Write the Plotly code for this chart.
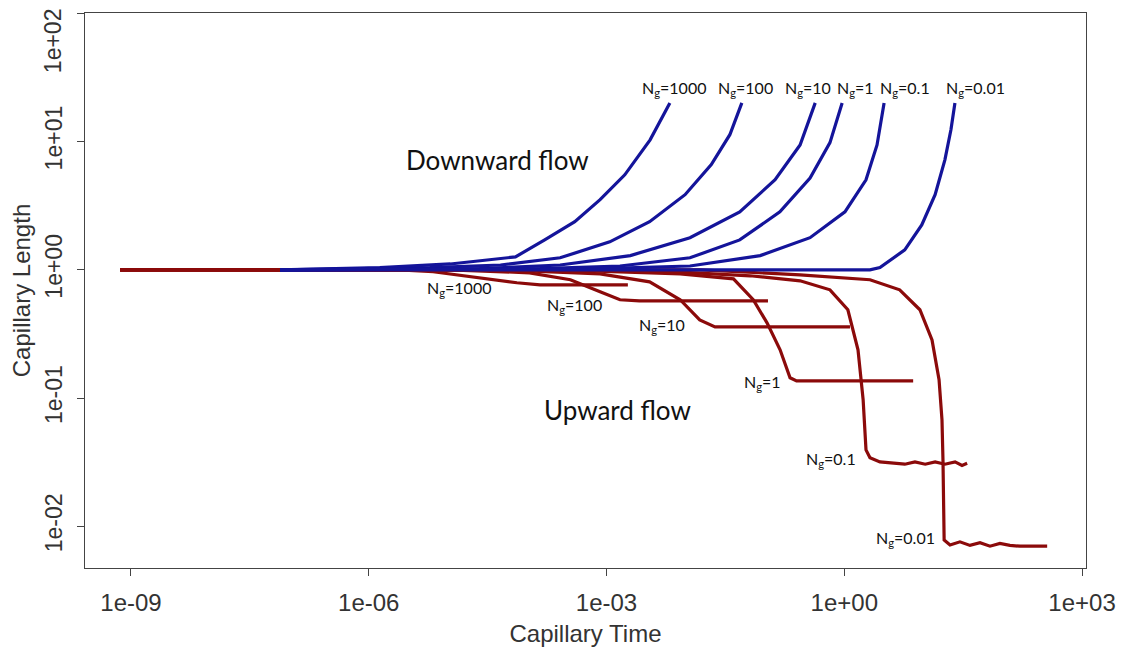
import plotly.graph_objects as go

# ---------------- data ----------------
ng_labels = ["1000", "100", "10", "1", "0.1", "0.01"]

# Downward flow (blue)
down_x_1000 = [7.6e-8, 1.38e-6, 1.07e-5, 7.1e-5, 1.66e-4, 3.98e-4, 8.3e-4, 1.7e-3, 3.55e-3, 6.3e-3]
down_y_1000 = [1.0, 1.04, 1.11, 1.26, 1.71, 2.37, 3.52, 5.5, 10.3, 20.0]
down_x_100 = [7.6e-8, 5.9e-6, 4.6e-5, 2.6e-4, 1.1e-3, 3.5e-3, 9.8e-3, 0.021, 0.036, 0.051]
down_y_100 = [1.0, 1.04, 1.09, 1.24, 1.65, 2.37, 3.85, 6.6, 11.3, 20.0]
down_x_10 = [7.6e-8, 2.5e-5, 2.6e-4, 2.0e-3, 0.0113, 0.048, 0.134, 0.277, 0.43]
down_y_10 = [1.0, 1.02, 1.09, 1.29, 1.78, 2.83, 5.03, 9.4, 20.0]
down_x_1 = [7.6e-8, 1.45e-4, 1.48e-3, 0.0113, 0.048, 0.154, 0.37, 0.66, 0.94]
down_y_1 = [1.0, 1.02, 1.07, 1.24, 1.71, 2.83, 5.2, 9.8, 20.0]
down_x_01 = [7.6e-8, 8.3e-4, 0.0113, 0.087, 0.37, 1.02, 1.88, 2.59, 3.18]
down_y_01 = [1.0, 1.02, 1.07, 1.29, 1.78, 2.83, 5.03, 9.4, 20.0]
down_x_001 = [7.6e-8, 2.11, 2.82, 5.8, 9.5, 14.0, 18.6, 22.2, 24.9]
down_y_001 = [1.0, 1.0, 1.04, 1.43, 2.24, 3.85, 7.2, 12.4, 20.0]

# Upward flow (red)
up_x_1000 = [7.3e-10, 2.45e-6, 6.5e-6, 2.5e-5, 7.4e-5, 1.45e-4, 1.86e-3]
up_y_1000 = [1.0, 1.0, 0.965, 0.866, 0.792, 0.764, 0.764]
up_x_100 = [7.3e-10, 1.07e-5, 1.07e-4, 3.5e-4, 8.3e-4, 1.48e-3, 2.6e-3, 0.109]
up_y_100 = [1.0, 1.0, 0.947, 0.836, 0.673, 0.584, 0.573, 0.573]
up_x_10 = [7.3e-10, 4.6e-5, 8.3e-4, 3.5e-3, 8.5e-3, 0.015, 0.0234, 1.18]
up_y_10 = [1.0, 1.0, 0.93, 0.806, 0.584, 0.407, 0.359, 0.359]
up_x_1 = [7.3e-10, 2.6e-4, 8.5e-3, 0.04, 0.071, 0.106, 0.155, 0.207, 0.25, 7.4]
up_y_1 = [1.0, 1.0, 0.93, 0.85, 0.584, 0.386, 0.238, 0.144, 0.136, 0.136]
up_x_01 = [7.3e-10, 2.6e-3, 0.065, 0.277, 0.66, 1.11, 1.49, 1.73, 1.88, 2.11, 2.82,
           4.37, 5.8, 7.8, 10.5, 14.0, 18.6, 25.0, 30.6, 35.5]
up_y_01 = [1.0, 1.0, 0.898, 0.82, 0.698, 0.488, 0.238, 0.0968, 0.0394, 0.0342, 0.0318,
           0.031, 0.0305, 0.0318, 0.0305, 0.0318, 0.0305, 0.0318, 0.0298, 0.031]
up_x_001 = [7.3e-10, 0.0152, 0.277, 2.11, 5.0, 9.0, 12.8, 15.7, 17.1, 17.6, 18.2, 21.6,
            28.8, 38.6, 51.6, 69.0, 92.0, 123.0, 165.0, 363.0]
up_y_001 = [1.0, 1.0, 0.914, 0.836, 0.698, 0.488, 0.284, 0.139, 0.0676, 0.0329, 0.00783, 0.00716,
            0.00757, 0.0071, 0.00746, 0.0070, 0.00735, 0.0071, 0.0070, 0.0070]

x_tickvals = [1e-9, 1e-6, 1e-3, 1e0, 1e3]
x_ticktext = ["1e-09", "1e-06", "1e-03", "1e+00", "1e+03"]
y_tickvals = [1e-2, 1e-1, 1e0, 1e1, 1e2]
y_ticktext = ["1e-02", "1e-01", "1e+00", "1e+01", "1e+02"]

BLUE = "#14149a"
RED = "#8b0a0a"

down_series = [(down_x_1000, down_y_1000), (down_x_100, down_y_100), (down_x_10, down_y_10),
               (down_x_1, down_y_1), (down_x_01, down_y_01), (down_x_001, down_y_001)]
up_series = [(up_x_1000, up_y_1000), (up_x_100, up_y_100), (up_x_10, up_y_10),
             (up_x_1, up_y_1), (up_x_01, up_y_01), (up_x_001, up_y_001)]

fig = go.Figure()
for (xs, ys), lab in zip(up_series, ng_labels):
    fig.add_trace(go.Scatter(x=xs, y=ys, mode="lines", name="Up Ng=" + lab,
                             line=dict(color=RED, width=3.2)))
for (xs, ys), lab in zip(down_series, ng_labels):
    fig.add_trace(go.Scatter(x=xs, y=ys, mode="lines", name="Down Ng=" + lab,
                             line=dict(color=BLUE, width=3.2)))

lab_font = dict(family="Lato, Carlito, sans-serif", size=16, color="#111")

# label positions (log10 units)
top_lab_x = [-2.148, -1.24, -0.457, 0.136, 0.767, 1.65]
top_lab_y = 1.412
bot_lab_pos = [(-4.861, -0.148), (-3.41, -0.281), (-2.30, -0.437),
               (-1.038, -0.881), (-0.167, -1.482), (0.767, -2.098)]

for lab, xx in zip(ng_labels, top_lab_x):
    fig.add_annotation(x=xx, y=top_lab_y, xref="x", yref="y", showarrow=False,
                       text="N<sub>g</sub>=" + lab, font=lab_font)
for lab, (xx, yy) in zip(ng_labels, bot_lab_pos):
    fig.add_annotation(x=xx, y=yy, xref="x", yref="y", showarrow=False,
                       text="N<sub>g</sub>=" + lab, font=lab_font)

fig.add_annotation(x=-4.37, y=0.858, xref="x", yref="y", showarrow=False,
                   text="Downward flow", font=dict(family="Lato, sans-serif", size=26, color="#111"))
fig.add_annotation(x=-2.855, y=-1.092, xref="x", yref="y", showarrow=False,
                   text="Upward flow", font=dict(family="Lato, sans-serif", size=26, color="#111"))

xtick_font = dict(family="Liberation Sans, Arial, sans-serif", size=24, color="#333")
ytick_font = dict(family="Liberation Sans, Arial, sans-serif", size=23, color="#333")
title_font = dict(family="Liberation Sans, Arial, sans-serif", size=24, color="#333")

# top y tick label would run off the page: draw it as a rotated text nudged inside
y_shown_text = y_ticktext[:-1] + [""]
fig.add_annotation(x=-0.032, y=1.79, xref="paper", yref="y", showarrow=False,
                   text=y_ticktext[-1], textangle=-90, font=ytick_font,
                   xanchor="center", yanchor="middle")

# The page body adds an 8px offset; the figure is sized to fit the 1126x651 window.
fig.update_layout(
    width=1118, height=643,
    margin=dict(l=77, r=40, t=5, b=83),
    paper_bgcolor="white", plot_bgcolor="white",
    showlegend=False,
    xaxis=dict(type="log", range=[-9.58, 3.05], tickvals=x_tickvals, ticktext=x_ticktext,
               showgrid=False, zeroline=False, showline=True, mirror=True,
               linecolor="#444", linewidth=1, ticks="outside", ticklen=7, tickcolor="#444",
               tickfont=xtick_font, ticklabelstandoff=6, automargin=False,
               title=dict(text="Capillary Time", font=title_font, standoff=10)),
    yaxis=dict(type="log", range=[-2.325, 2.002], tickvals=y_tickvals, ticktext=y_shown_text,
               showgrid=False, zeroline=False, showline=True, mirror=True,
               linecolor="#444", linewidth=1, ticks="outside", ticklen=7, tickcolor="#444",
               tickangle=-90, tickfont=ytick_font, ticklabelstandoff=6,
               ticklabeloverflow="allow", automargin=False,
               title=dict(text="Capillary Length", font=title_font, standoff=4)),
)

fig.write_html("out.html")
